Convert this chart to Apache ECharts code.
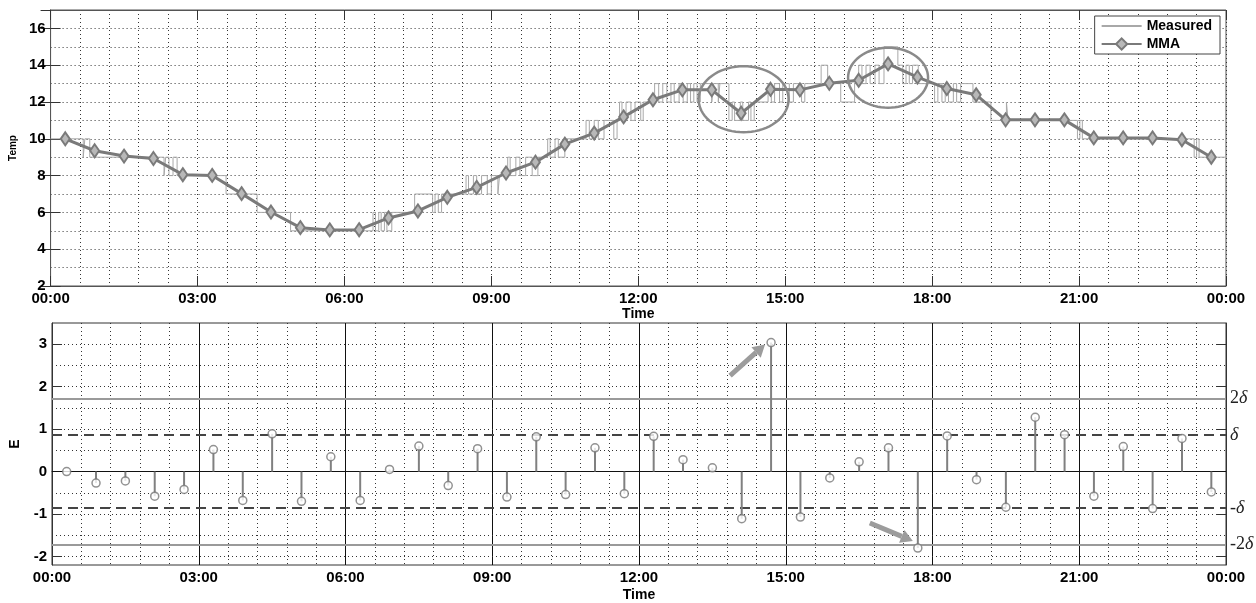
<!DOCTYPE html>
<html><head><meta charset="utf-8">
<script src="https://cdn.jsdelivr.net/npm/echarts@6/dist/echarts.min.js"></script>
<style>html,body{margin:0;padding:0;background:#fff}#c{width:1256px;height:603px}</style>
</head><body><div id="c"></div>
<script>
// ---- data ----
const sampleTimes = ['00:18','00:54','01:30','02:06','02:42','03:18','03:54','04:30','05:06','05:42',
  '06:18','06:54','07:30','08:06','08:42','09:18','09:54','10:30','11:06','11:42',
  '12:18','12:54','13:30','14:06','14:42','15:18','15:54','16:30','17:06','17:42',
  '18:18','18:54','19:30','20:06','20:42','21:18','21:54','22:30','23:06','23:42'];
const mmaValues = [10.0, 9.35, 9.06, 8.93, 8.05, 8.01, 7.02, 6.02, 5.17, 5.05,
  5.06, 5.7, 6.08, 6.82, 7.36, 8.14, 8.73, 9.71, 10.31, 11.19,
  12.12, 12.66, 12.66, 11.39, 12.69, 12.66, 13.02, 13.18, 14.07, 13.35,
  12.73, 12.39, 11.03, 11.03, 11.03, 10.05, 10.05, 10.05, 9.95, 9.0];
const errValues = [0, -0.27, -0.22, -0.58, -0.42, 0.52, -0.68, 0.89, -0.70, 0.35,
  -0.68, 0.05, 0.60, -0.33, 0.54, -0.60, 0.82, -0.54, 0.56, -0.52,
  0.83, 0.28, 0.09, -1.11, 3.04, -1.07, -0.15, 0.23, 0.56, -1.80,
  0.84, -0.19, -0.84, 1.28, 0.87, -0.58, 0.59, -0.87, 0.78, -0.48];
// measured (quantised) temperature: minutes since midnight and value held from that time
const measuredTimes = [0,40,42,48,139,141,145,150,155,215,253,294,395,398,402,405,409,412,418,446,
  468,471,475,479,509,512,518,522,528,535,540,548,550,560,563,570,575,582,590,597,
  609,612,618,622,630,656,660,666,671,678,690,694,697,700,705,711,716,723,726,740,
  745,750,755,760,764,770,775,780,784,788,792,796,810,812,818,820,831,835,838,845,
  848,855,858,862,879,883,887,893,897,905,910,920,924,944,952,968,985,990,994,999,
  1004,1010,1015,1021,1038,1044,1048,1052,1056,1063,1083,1087,1092,1096,1100,1106,1110,1115,1130,1152,
  1171,1173,1258,1261,1264,1401,1404,1407,1440];
const measuredValues = [10,9,10,9,8,9,8,9,8,7,6,5,6,5,6,5,6,5,6,7,
  6,7,6,7,8,7,8,7,8,7,8,7,8,9,8,9,8,9,8,9,
  10,9,10,9,10,11,10,11,10,11,10,11,12,11,12,11,12,11,12,13,
  12,13,12,13,12,13,12,13,12,13,12,13,12,13,12,13,11,12,11,12,
  11,12,11,12,13,12,13,12,13,12,13,12,13,14,13,12,13,14,13,14,
  13,14,13,15,14,13,14,13,14,13,12,13,12,13,12,13,12,13,12,11,
  12,11,10,11,10,9,10,9,9];
const xTickLabels = ['00:00','03:00','06:00','09:00','12:00','15:00','18:00','21:00','00:00'];
const tempLabelStep = 2;
const errTickValues = [-2, -1, 0, 1, 2, 3];
const errGridValues = [-2, -1.5, -1, -0.5, 0.5, 1, 1.5, 2, 2.5, 3];
const deltaValue = 0.86;
const twoDeltaValue = 1.72;
const ellipseCenters = [['14:09', 12.15], ['17:06', 13.32]];
const arrowTargets = [24, 29];

// ---- helpers ----
const toMin = s => { const p = s.split(':'); return (+p[0]) * 60 + (+p[1]); };
const FONT = 'Liberation Sans, Arial, sans-serif';
const SERIF = 'Liberation Serif, Times New Roman, serif';
const dotted = { type: [1, 3], color: '#333', width: 1 };
const timeFmt = v => xTickLabels[Math.round(v / 180)] || '';

const mmaData = sampleTimes.map((t, i) => [toMin(t), mmaValues[i]]);
const errData = sampleTimes.map((t, i) => [toMin(t), errValues[i]]);
const measData = measuredTimes.map((t, i) => [t, measuredValues[i]]);

const chart = echarts.init(document.getElementById('c'), null, { renderer: 'canvas' });

const baseX = {
  type: 'value', min: 0, max: 1440, interval: 180,
  axisLabel: { formatter: timeFmt, color: '#000', fontWeight: 'bold', fontSize: 15, fontFamily: FONT, margin: 5 },
};
const deltaLabel = txt => ({
  show: true, position: 'end', distance: 4, formatter: txt,
  rich: {
    a: { fontFamily: SERIF, fontSize: 18, color: '#222' },
    b: { fontFamily: SERIF, fontSize: 18, color: '#222', fontStyle: 'italic' }
  }
});

const markData = errGridValues.map(v => ({ yAxis: v, lineStyle: dotted, label: { show: false } }));
markData.push({ yAxis: 0, lineStyle: { color: '#111', width: 1, type: 'solid' }, label: { show: false } });
markData.push({ yAxis: twoDeltaValue, lineStyle: { color: '#9a9a9a', width: 2, type: 'solid' }, label: deltaLabel('{a|2}{b|δ}') });
markData.push({ yAxis: deltaValue, lineStyle: { color: '#444', width: 2, type: [10, 6] }, label: deltaLabel('{b|δ}') });
markData.push({ yAxis: -deltaValue, lineStyle: { color: '#444', width: 2, type: [10, 6] }, label: deltaLabel('{a|-}{b|δ}') });
markData.push({ yAxis: -twoDeltaValue, lineStyle: { color: '#9a9a9a', width: 2, type: 'solid' }, label: deltaLabel('{a|-2}{b|δ}') });

const option = {
  animation: false,
  backgroundColor: '#fff',
  grid: [
    { left: 49, right: 30, top: 10, height: 276, show: true, borderColor: '#555', borderWidth: 1, backgroundColor: '#fff' },
    { left: 49, right: 30, top: 323, height: 247, show: true, borderColor: '#333', borderWidth: 1, backgroundColor: '#fff' }
  ],
  legend: {
    data: [
      { name: 'Measured', itemStyle: { opacity: 0 } },
      { name: 'MMA' }
    ],
    orient: 'vertical', right: 36, top: 16,
    itemWidth: 40, itemHeight: 14, itemGap: 4,
    backgroundColor: '#fff', borderColor: '#444', borderWidth: 1, padding: [3, 8, 3, 6],
    textStyle: { fontFamily: FONT, fontWeight: 'bold', fontSize: 14, color: '#000' }
  },
  xAxis: [
    Object.assign({}, baseX, {
      gridIndex: 0, position: 'bottom',
      axisLine: { show: true, lineStyle: { color: '#555' } },
      axisTick: { show: true, inside: true, length: 10, lineStyle: { color: '#333' } },
      splitLine: { show: true, lineStyle: dotted },
      minorTick: { show: false, splitNumber: 5 },
      minorSplitLine: { show: true, lineStyle: dotted },
      name: 'Time', nameLocation: 'middle', nameGap: 20,
      nameTextStyle: { fontFamily: FONT, fontWeight: 'bold', fontSize: 14, color: '#000' }
    }),
    Object.assign({}, baseX, {
      gridIndex: 0, position: 'top',
      axisLine: { show: true, lineStyle: { color: '#555' } },
      axisTick: { show: true, inside: true, length: 10, lineStyle: { color: '#333' } },
      axisLabel: { show: false }, splitLine: { show: false }
    }),
    Object.assign({}, baseX, {
      gridIndex: 1, position: 'bottom',
      axisLine: { show: true, lineStyle: { color: '#333' } },
      axisTick: { show: false },
      splitLine: { show: true, lineStyle: { color: '#111', width: 1 } },
      minorTick: { show: false, splitNumber: 5 },
      minorSplitLine: { show: true, lineStyle: dotted },
      name: 'Time', nameLocation: 'middle', nameGap: 23,
      nameTextStyle: { fontFamily: FONT, fontWeight: 'bold', fontSize: 14, color: '#000' }
    })
  ],
  yAxis: [
    {
      gridIndex: 0, type: 'value', position: 'left', min: 2, max: 17, interval: tempLabelStep,
      axisLine: { show: true, lineStyle: { color: '#555' } },
      axisTick: { show: true, inside: true, length: 10, lineStyle: { color: '#333' } },
      axisLabel: { showMaxLabel: false, color: '#000', fontWeight: 'bold', fontSize: 15, fontFamily: FONT, margin: 5 },
      splitLine: { show: false },
      name: 'Temp', nameLocation: 'middle', nameGap: 32, nameRotate: 90,
      nameTextStyle: { fontFamily: FONT, fontWeight: 'bold', fontSize: 10, color: '#000' }
    },
    {
      gridIndex: 0, type: 'value', position: 'right', min: 2, max: 17, interval: tempLabelStep,
      axisLine: { show: true, lineStyle: { color: '#555' } },
      axisTick: { show: true, inside: true, length: 10, lineStyle: { color: '#333' } },
      axisLabel: { show: false }, splitLine: { show: false }
    },
    {
      gridIndex: 0, type: 'value', position: 'left', min: 2, max: 17, interval: 1,
      axisLine: { show: false }, axisTick: { show: false }, axisLabel: { show: false },
      splitLine: { show: true, lineStyle: dotted }
    },
    {
      gridIndex: 1, type: 'value', position: 'left', min: -2.2, max: 3.5,
      axisLine: { show: true, lineStyle: { color: '#333' } },
      axisTick: { show: true, inside: true, length: 10, customValues: errTickValues, lineStyle: { color: '#333' } },
      axisLabel: { customValues: errTickValues, color: '#000', fontWeight: 'bold', fontSize: 15, fontFamily: FONT, margin: 5 },
      splitLine: { show: false },
      name: 'E', nameLocation: 'middle', nameGap: 30, nameRotate: 90,
      nameTextStyle: { fontFamily: FONT, fontWeight: 'bold', fontSize: 14, color: '#000' }
    },
    {
      gridIndex: 1, type: 'value', position: 'right', min: -2.2, max: 3.5,
      axisLine: { show: true, lineStyle: { color: '#333' } },
      axisTick: { show: true, inside: true, length: 10, customValues: errTickValues, lineStyle: { color: '#333' } },
      axisLabel: { show: false }, splitLine: { show: false }
    }
  ],
  series: [
    {
      name: 'Measured', type: 'line', xAxisIndex: 0, yAxisIndex: 0, step: 'end',
      symbol: 'none', data: measData, z: 3,
      lineStyle: { color: '#a8a8a8', width: 1 }, itemStyle: { color: '#a8a8a8' }
    },
    {
      name: 'MMA', type: 'line', xAxisIndex: 0, yAxisIndex: 0,
      symbol: 'diamond', symbolSize: [9, 13], showAllSymbol: true, data: mmaData, z: 4,
      lineStyle: { color: '#7a7a7a', width: 3 },
      itemStyle: { color: '#b8b8b8', borderColor: '#7a7a7a', borderWidth: 2 }
    },
    {
      name: 'E stem', type: 'bar', xAxisIndex: 2, yAxisIndex: 4, barWidth: 2,
      data: errData, itemStyle: { color: '#808080' }, z: 4,
      markLine: { silent: true, symbol: ['none', 'none'], animation: false, data: markData, z: 2 }
    },
    {
      name: 'E', type: 'scatter', xAxisIndex: 2, yAxisIndex: 4,
      symbol: 'circle', symbolSize: 8, data: errData, z: 5,
      itemStyle: { color: '#fff', borderColor: '#777', borderWidth: 1.5 }
    }
  ]
};
chart.setOption(option);

// ---- annotations (ellipses in top plot, arrows in bottom plot) ----
const graphics = [];
const ellRadii = [[45, 33], [40, 30]];
ellipseCenters.forEach((c, k) => {
  const p = chart.convertToPixel({ xAxisIndex: 0, yAxisIndex: 0 }, [toMin(c[0]), c[1]]);
  const pts = [];
  for (let a = 0; a <= 72; a++) {
    const th = a / 72 * Math.PI * 2;
    pts.push([p[0] + ellRadii[k][0] * Math.cos(th), p[1] + ellRadii[k][1] * Math.sin(th)]);
  }
  graphics.push({ type: 'polyline', shape: { points: pts }, style: { stroke: '#8a8a8a', lineWidth: 2.5, fill: null }, z: 100 });
});
const arrowOffsets = [[[-41, 33], [-6, 2]], [[-48, -25], [-5, -7]]];
arrowTargets.forEach((idx, k) => {
  const p = chart.convertToPixel({ xAxisIndex: 2, yAxisIndex: 4 }, errData[idx]);
  const tail = [p[0] + arrowOffsets[k][0][0], p[1] + arrowOffsets[k][0][1]];
  const tip = [p[0] + arrowOffsets[k][1][0], p[1] + arrowOffsets[k][1][1]];
  const dx = tip[0] - tail[0], dy = tip[1] - tail[1];
  const L = Math.hypot(dx, dy), ux = dx / L, uy = dy / L, nx = -uy, ny = ux;
  const hl = 12, hw = 7;
  const base = [tip[0] - ux * hl, tip[1] - uy * hl];
  graphics.push({ type: 'line', shape: { x1: tail[0], y1: tail[1], x2: base[0], y2: base[1] },
    style: { stroke: '#9c9c9c', lineWidth: 5 }, z: 100 });
  graphics.push({ type: 'polygon', shape: { points: [tip, [base[0] + nx * hw, base[1] + ny * hw], [base[0] - nx * hw, base[1] - ny * hw]] },
    style: { fill: '#9c9c9c' }, z: 100 });
});
chart.setOption({ graphic: graphics });
</script>
</body></html>
